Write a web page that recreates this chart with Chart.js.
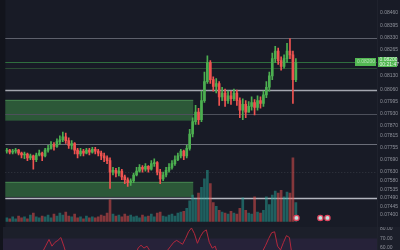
<!DOCTYPE html>
<html>
<head>
<meta charset="utf-8">
<script src="https://cdn.jsdelivr.net/npm/chart.js@4.4.0/dist/chart.umd.min.js"></script>
<style>
    html, body { margin: 0; padding: 0; background: #181b26; }
    #wrap { width: 400px; height: 250px; overflow: hidden; }
    canvas { display: block; }
</style>
</head>
<body>
<div id="wrap">
    <canvas id="price" width="400" height="227"></canvas>
    <canvas id="rsi" width="400" height="23"></canvas>
</div>
<script>
// candles
const firstOpen = 0.07735;
const closes = [
    0.07740, 0.07730, 0.07735, 0.07740, 0.07725, 0.07715, 0.07720, 0.07700, 0.07710, 0.07690,
    0.07715, 0.07725, 0.07710, 0.07740, 0.07750, 0.07770, 0.07760, 0.07785, 0.07795, 0.07810,
    0.07790, 0.07765, 0.07775, 0.07740, 0.07720, 0.07735, 0.07725, 0.07740, 0.07730, 0.07745,
    0.07735, 0.07725, 0.07710, 0.07700, 0.07685, 0.07625, 0.07635, 0.07620, 0.07630, 0.07600,
    0.07585, 0.07570, 0.07580, 0.07610, 0.07630, 0.07650, 0.07640, 0.07655, 0.07640, 0.07670,
    0.07675, 0.07625, 0.07590, 0.07610, 0.07635, 0.07650, 0.07670, 0.07690, 0.07710, 0.07735,
    0.07710, 0.07750, 0.07825, 0.07890, 0.07940, 0.07900, 0.08000, 0.08100, 0.08200, 0.08110,
    0.08075, 0.08090, 0.08020, 0.08040, 0.08000, 0.08025, 0.08010, 0.08040, 0.08000, 0.07950,
    0.07980, 0.07940, 0.07970, 0.07990, 0.07965, 0.08000, 0.07985, 0.08030, 0.08070, 0.08130,
    0.08220, 0.08260, 0.08210, 0.08180, 0.08220, 0.08260, 0.08240, 0.08110, 0.08200
];
const highs = [
    0.07750, 0.07745, 0.07745, 0.07750, 0.07745, 0.07730, 0.07730, 0.07725, 0.07720, 0.07715,
    0.07725, 0.07740, 0.07730, 0.07750, 0.07765, 0.07785, 0.07780, 0.07800, 0.07815, 0.07835,
    0.07830, 0.07805, 0.07790, 0.07780, 0.07750, 0.07750, 0.07745, 0.07750, 0.07750, 0.07755,
    0.07755, 0.07745, 0.07735, 0.07725, 0.07710, 0.07700, 0.07650, 0.07645, 0.07650, 0.07640,
    0.07610, 0.07595, 0.07590, 0.07620, 0.07650, 0.07665, 0.07660, 0.07670, 0.07660, 0.07685,
    0.07695, 0.07680, 0.07640, 0.07625, 0.07650, 0.07670, 0.07685, 0.07710, 0.07725, 0.07745,
    0.07740, 0.07765, 0.07850, 0.07910, 0.07975, 0.07960, 0.08050, 0.08150, 0.08235, 0.08210,
    0.08125, 0.08115, 0.08100, 0.08070, 0.08060, 0.08050, 0.08050, 0.08060, 0.08055, 0.08015,
    0.08010, 0.08000, 0.07995, 0.08020, 0.08005, 0.08025, 0.08020, 0.08050, 0.08100, 0.08150,
    0.08250, 0.08285, 0.08275, 0.08230, 0.08240, 0.08300, 0.08325, 0.08260, 0.08220
];
const lows = [
    0.07725, 0.07720, 0.07720, 0.07725, 0.07715, 0.07700, 0.07695, 0.07685, 0.07690, 0.07640,
    0.07680, 0.07710, 0.07685, 0.07705, 0.07730, 0.07745, 0.07740, 0.07755, 0.07770, 0.07785,
    0.07775, 0.07750, 0.07745, 0.07720, 0.07700, 0.07710, 0.07710, 0.07720, 0.07715, 0.07725,
    0.07720, 0.07710, 0.07690, 0.07680, 0.07670, 0.07540, 0.07610, 0.07600, 0.07605, 0.07585,
    0.07565, 0.07550, 0.07555, 0.07570, 0.07605, 0.07625, 0.07625, 0.07630, 0.07625, 0.07635,
    0.07655, 0.07610, 0.07565, 0.07580, 0.07600, 0.07625, 0.07640, 0.07660, 0.07685, 0.07700,
    0.07690, 0.07700, 0.07740, 0.07810, 0.07875, 0.07875, 0.07890, 0.07990, 0.08090, 0.08090,
    0.08050, 0.08040, 0.07975, 0.08000, 0.07970, 0.07985, 0.07980, 0.08000, 0.07975, 0.07910,
    0.07900, 0.07910, 0.07940, 0.07950, 0.07925, 0.07950, 0.07960, 0.07970, 0.08015, 0.08050,
    0.08110, 0.08200, 0.08190, 0.08160, 0.08170, 0.08200, 0.08220, 0.07985, 0.08100
];
const opens = [firstOpen].concat(closes.slice(0, -1));

// volume (K) and RSI
const volumes = [
    4, 3, 5, 3, 6, 4, 5, 3, 7, 9, 5,
    4, 6, 5, 7, 4, 8, 6, 9, 7, 10,
    6, 5, 8, 4, 5, 3, 6, 4, 5, 4,
    5, 7, 6, 9, 23, 8, 6, 7, 5, 8,
    6, 7, 5, 6, 4, 7, 5, 6, 8, 5,
    9, 10, 6, 5, 7, 8, 6, 9, 10, 11,
    14, 22, 28, 24, 30, 36, 45, 54, 40, 20,
    16, 12, 10, 9, 8, 11, 9, 8, 14, 25,
    12, 9, 8, 26, 10, 9, 12, 26, 18, 28,
    32, 30, 33, 26, 31, 30, 67, 20
];
const rsiValues = [
    48, 50, 46, 44, 47, 42, 40, 45, 49, 47, 52, 50, 54,
    57, 63, 69, 62, 66, 68, 71, 62, 52,
    53, 44, 40, 45, 43, 47, 44, 48, 45, 42, 38, 36, 33, 22, 26, 24, 30, 27, 24, 22, 25, 33,
    50, 60, 63, 60, 62, 57, 55, 42, 35, 42, 50, 58, 62, 66, 68, 66, 64, 70, 77, 81,
    75, 65, 72, 77, 79, 66, 60, 62, 52, 55, 50, 53, 51, 55, 49, 42, 47, 41, 46, 49,
    45, 51, 49, 57, 63, 70, 76, 77, 62, 58, 66, 73, 71, 50, 57
];
const markerIdx = [98.2, 106.3, 108.7];
const markerVol = [4, 4, 4];

// axes
const priceTicks = [
    0.08460, 0.08395, 0.08330, 0.08265, 0.08200, 0.08130, 0.08060, 0.07995, 0.07930, 0.07870,
    0.07815, 0.07755, 0.07690, 0.07630, 0.07580, 0.07535, 0.07490, 0.07445, 0.07400
];
const rsiTicks = [80, 70, 60];

// drawn levels and zones
const levelPrices = [0.0833, 0.0820, 0.0817, 0.08055, 0.0793, 0.0777, 0.0749];
const dottedPrice = 0.07625;
const zoneRanges = [[0.08005, 0.07895], [0.07575, 0.07495]];
const zoneEndIdx = 63.2;
const lastPrice = closes[closes.length - 1];

const levelColors = ["#5d606b", "#2f6e3e", "#2a4a33", "#a3a6af", "#4d505b", "#6b6e79", "#b2b5be"];
const UP = "#4caf50", DOWN = "#ef5350";
const BG = "#181b26";
const AXIS_W = 23;
const FONT = '5px "Liberation Sans"';

const isUp = closes.map((c, i) => c >= opens[i]);
const candleColor = isUp.map(u => (u ? UP : DOWN));
const volColor = isUp.map(u => (u ? "rgba(38,166,154,0.5)" : "rgba(239,83,80,0.5)"));

const xScale = { type: "linear", display: false, offset: false, min: -0.5, max: 125.5 };
const fitAxis = s => { s.width = AXIS_W; };

const pricePane = {
    id: "pricePane",
    beforeDraw(chart) {
        const { ctx, chartArea: a } = chart;
        ctx.save();
        ctx.fillStyle = BG;
        ctx.fillRect(0, 0, chart.width, chart.height);
        ctx.fillStyle = "#12141c";
        ctx.fillRect(0, 0, a.left, chart.height);
        ctx.restore();
    },
    beforeDatasetsDraw(chart) {
        const { ctx, chartArea: a, scales } = chart;
        const y = scales.y, x = scales.x;
        ctx.save();
        const zx = x.getPixelForValue(zoneEndIdx);
        zoneRanges.forEach(([top, bot]) => {
            const y1 = y.getPixelForValue(top), y2 = y.getPixelForValue(bot);
            ctx.fillStyle = "#2c5838";
            ctx.fillRect(a.left, y1, zx - a.left, y2 - y1);
            ctx.fillStyle = "rgba(90,170,100,0.45)";
            ctx.fillRect(a.left, Math.round(y1), zx - a.left, 1);
        });
        ctx.setLineDash([1, 2]);
        ctx.strokeStyle = "rgba(120,123,134,0.3)";
        ctx.lineWidth = 1;
        const dy = Math.round(y.getPixelForValue(dottedPrice)) + 0.5;
        ctx.beginPath(); ctx.moveTo(a.left, dy); ctx.lineTo(a.right, dy); ctx.stroke();
        ctx.setLineDash([]);
        levelPrices.forEach((p, i) => {
            const py = Math.round(y.getPixelForValue(p)) + 0.5;
            ctx.strokeStyle = levelColors[i];
            ctx.lineWidth = i === 3 || i === 6 ? 1.5 : 1;
            ctx.beginPath(); ctx.moveTo(a.left, py); ctx.lineTo(a.right, py); ctx.stroke();
        });
        ctx.restore();
    },
    afterDraw(chart) {
        const { ctx, chartArea: a, scales } = chart;
        const y = scales.y;
        ctx.save();
        ctx.fillStyle = "#1f222d";
        ctx.fillRect(a.right, 0, 1, chart.height);
        ctx.font = FONT;
        ctx.textBaseline = "middle";
        ctx.fillStyle = "#8f929b";
        priceTicks.forEach(t => {
            ctx.fillText(t.toFixed(5), a.right + 3, y.getPixelForValue(t));
        });
        const py = Math.round(y.getPixelForValue(lastPrice));
        ctx.fillStyle = "#52b852";
        ctx.fillRect(a.right - 22, py - 4, 21, 8);
        ctx.fillRect(a.right + 1, py - 5, 19, 10);
        ctx.fillStyle = "rgba(255,255,255,0.55)";
        ctx.fillText(lastPrice.toFixed(5), a.right - 20, py);
        ctx.fillStyle = "rgba(255,255,255,0.85)";
        ctx.fillText(lastPrice.toFixed(5), a.right + 2.5, py - 2);
        ctx.fillText("00:21:47", a.right + 2.5, py + 2.5);
        ctx.restore();
    }
};

new Chart(document.getElementById("price"), {
    data: {
        datasets: [
            {
                type: "scatter",
                data: markerIdx.map((x, i) => ({ x, y: markerVol[i] })),
                yAxisID: "vol",
                pointRadius: 2.6,
                pointBorderWidth: 1.3,
                pointBackgroundColor: "#bfe3de",
                pointBorderColor: "#e0455f",
                order: 0
            },
            {
                type: "bar",
                data: closes.map((c, i) => ({ x: i, y: [opens[i], c] })),
                backgroundColor: candleColor,
                barThickness: 2,
                minBarLength: 1,
                grouped: false,
                order: 1
            },
            {
                type: "bar",
                data: closes.map((c, i) => ({ x: i, y: [lows[i], highs[i]] })),
                backgroundColor: candleColor,
                barThickness: 1,
                grouped: false,
                order: 2
            },
            {
                type: "bar",
                data: volumes.map((v, i) => ({ x: i, y: v })),
                yAxisID: "vol",
                backgroundColor: volColor,
                barThickness: 2,
                grouped: false,
                order: 3
            }
        ]
    },
    options: {
        responsive: false,
        animation: false,
        devicePixelRatio: 1,
        layout: { padding: { left: 3, right: 0, top: 0, bottom: 0 } },
        plugins: { legend: { display: false }, tooltip: { enabled: false } },
        scales: {
            x: xScale,
            y: {
                position: "right",
                min: 0.07365,
                max: 0.085,
                grid: { display: false },
                border: { display: false },
                ticks: { display: false },
                afterFit: fitAxis
            },
            vol: { display: false, min: 0, max: 227 }
        }
    },
    plugins: [pricePane]
});

const rsiPane = {
    id: "rsiPane",
    beforeDraw(chart) {
        const { ctx, chartArea: a, scales } = chart;
        ctx.save();
        ctx.fillStyle = "#1c1f2a";
        ctx.fillRect(0, 0, chart.width, chart.height);
        ctx.fillStyle = "#12141c";
        ctx.fillRect(0, 0, a.left, chart.height);
        const y70 = scales.y.getPixelForValue(70);
        ctx.fillStyle = "#262239";
        ctx.fillRect(a.left, y70, a.right - a.left, a.bottom - y70);
        ctx.restore();
    },
    afterDraw(chart) {
        const { ctx, chartArea: a, scales } = chart;
        ctx.save();
        ctx.fillStyle = "#1f222d";
        ctx.fillRect(a.right, 0, 1, chart.height);
        ctx.font = FONT;
        ctx.textBaseline = "middle";
        ctx.fillStyle = "#8f929b";
        rsiTicks.forEach(t => {
            ctx.fillText(t.toFixed(2), a.right + 3, scales.y.getPixelForValue(t));
        });
        ctx.restore();
    }
};

new Chart(document.getElementById("rsi"), {
    type: "line",
    data: {
        datasets: [{
            data: rsiValues.map((v, i) => ({ x: i, y: v })),
            borderColor: "#b3283d",
            borderWidth: 1,
            pointRadius: 0,
            tension: 0
        }]
    },
    options: {
        responsive: false,
        animation: false,
        devicePixelRatio: 1,
        layout: { padding: { left: 3, right: 0, top: 0, bottom: 0 } },
        plugins: { legend: { display: false }, tooltip: { enabled: false } },
        scales: {
            x: xScale,
            y: {
                position: "right",
                min: 58,
                max: 82,
                grid: { display: false },
                border: { display: false },
                ticks: { display: false },
                afterFit: fitAxis
            }
        }
    },
    plugins: [rsiPane]
});
</script>
</body>
</html>
